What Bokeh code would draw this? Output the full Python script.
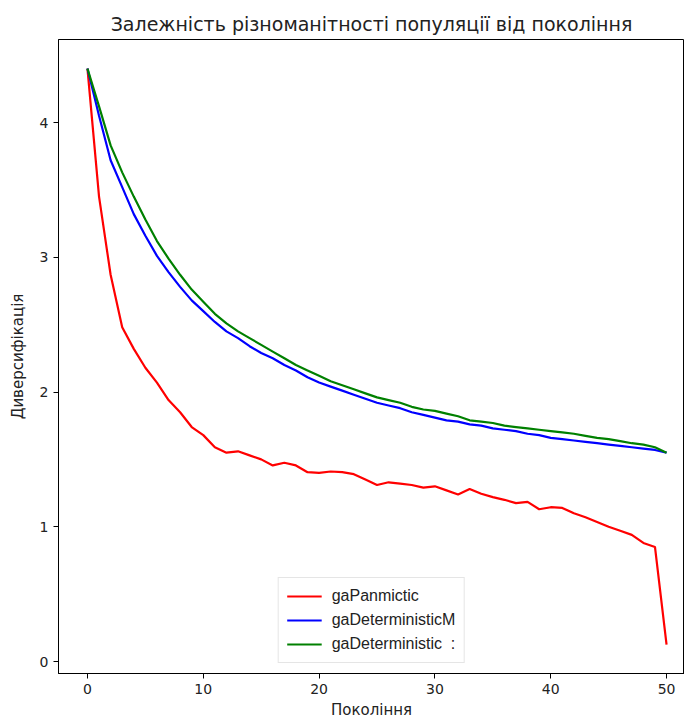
from bokeh.plotting import figure
from bokeh.models import Range1d, Legend, LegendItem, FixedTicker
from bokeh.embed import file_html
from bokeh.resources import INLINE

generations = list(range(51))

ga_panmictic = [4.40, 3.45, 2.87, 2.48, 2.32, 2.18, 2.07, 1.94, 1.85, 1.74,
                1.68, 1.59, 1.55, 1.56, 1.53, 1.50, 1.455, 1.475, 1.455, 1.405,
                1.40, 1.41, 1.405, 1.39, 1.35, 1.31, 1.33, 1.32, 1.31, 1.29,
                1.30, 1.27, 1.24, 1.28, 1.245, 1.22, 1.20, 1.175, 1.185, 1.13,
                1.145, 1.14, 1.10, 1.07, 1.035, 1.00, 0.97, 0.94, 0.88, 0.85,
                0.125]

ga_deterministic_m = [4.40, 4.05, 3.72, 3.52, 3.32, 3.16, 3.01, 2.89, 2.78, 2.68,
                      2.60, 2.52, 2.45, 2.40, 2.34, 2.29, 2.25, 2.20, 2.16, 2.11,
                      2.07, 2.04, 2.01, 1.98, 1.95, 1.92, 1.90, 1.88, 1.85, 1.83,
                      1.81, 1.79, 1.78, 1.76, 1.75, 1.73, 1.72, 1.71, 1.69, 1.68,
                      1.66, 1.65, 1.64, 1.63, 1.62, 1.61, 1.60, 1.59, 1.58, 1.57,
                      1.55]

ga_deterministic = [4.40, 4.12, 3.83, 3.63, 3.45, 3.28, 3.12, 2.99, 2.87, 2.76,
                    2.67, 2.58, 2.51, 2.45, 2.40, 2.35, 2.30, 2.25, 2.20, 2.16,
                    2.12, 2.08, 2.05, 2.02, 1.99, 1.96, 1.94, 1.92, 1.89, 1.87,
                    1.86, 1.84, 1.82, 1.79, 1.78, 1.77, 1.75, 1.74, 1.73, 1.72,
                    1.71, 1.70, 1.69, 1.675, 1.66, 1.65, 1.635, 1.62, 1.61, 1.59,
                    1.55]

x_ticks = [0, 10, 20, 30, 40, 50]
y_ticks = [0, 1, 2, 3, 4]

p = figure(width=684, height=722,
           x_range=Range1d(-2.5, 51.55), y_range=Range1d(-0.089, 4.616),
           output_backend="svg", toolbar_location=None,
           min_border_left=58, min_border_right=0,
           min_border_top=39, min_border_bottom=49)

p.title.text = "Залежність різноманітності популяції від покоління"
p.title.align = "center"
p.title.text_font = "DejaVu Sans"
p.title.text_font_size = "19px"
p.title.text_font_style = "normal"
p.title.text_color = "#222222"
p.title.offset = 0

p.xgrid.visible = False
p.ygrid.visible = False
p.outline_line_color = "black"

for ax, ticks in ((p.xaxis[0], x_ticks), (p.yaxis[0], y_ticks)):
    ax.ticker = FixedTicker(ticks=ticks)
    ax.minor_tick_line_color = None
    ax.major_tick_in = 0
    ax.major_tick_out = 5
    ax.axis_line_color = "black"
    ax.major_tick_line_color = "black"
    ax.major_label_text_font = "DejaVu Sans"
    ax.major_label_text_font_size = "14px"
    ax.major_label_text_color = "#222222"
    ax.axis_label_text_font = "DejaVu Sans"
    ax.axis_label_text_font_size = "15px"
    ax.axis_label_text_font_style = "normal"
    ax.axis_label_text_color = "#222222"

p.xaxis.axis_label = "Покоління"
p.yaxis.axis_label = "Диверсифікація"
p.xaxis.axis_label_standoff = 4
p.yaxis.axis_label_standoff = 10

r1 = p.line(generations, ga_panmictic, line_color="red", line_width=2.2)
r2 = p.line(generations, ga_deterministic_m, line_color="blue", line_width=2.2)
r3 = p.line(generations, ga_deterministic, line_color="green", line_width=2.2)

legend = Legend(items=[
    LegendItem(label="gaPanmictic", renderers=[r1]),
    LegendItem(label="gaDeterministicM", renderers=[r2]),
    LegendItem(label="gaDeterministic  :", renderers=[r3]),
], location="bottom_center")
legend.margin = 10
legend.padding = 8
legend.spacing = 4
legend.glyph_width = 35
legend.glyph_height = 20
legend.label_standoff = 10
legend.label_text_font = "Liberation Sans"
legend.label_text_font_size = "16px"
legend.label_text_color = "#222222"
legend.border_line_color = "#cccccc"
legend.border_line_width = 1
legend.background_fill_alpha = 0.9
p.add_layout(legend)

open("out.html", "w").write(file_html(p, INLINE))
